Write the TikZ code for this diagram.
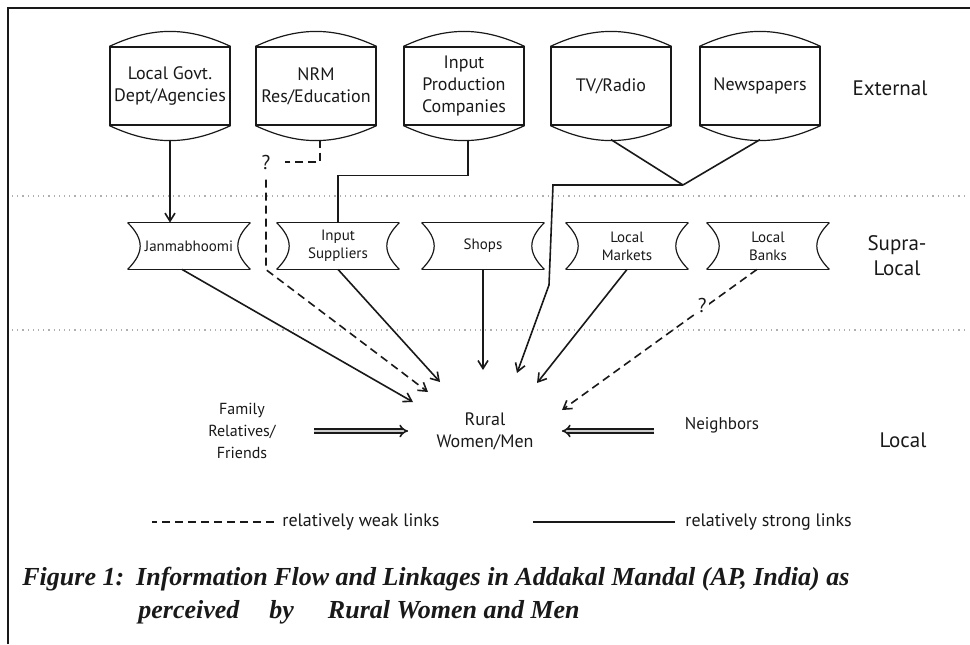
\documentclass[tikz,border=0pt]{standalone}
\usepackage{fontspec}
\setmainfont{PT Sans}
\newfontfamily\capfont{Liberation Serif}
\usetikzlibrary{arrows.meta,positioning,calc}
\definecolor{InfBlack}{RGB}{25,25,25}
\definecolor{InfRule}{RGB}{175,175,175}
\tikzset{
  inf/ext/.style={
    rectangle,
    draw=InfBlack,
    semithick,
    minimum width=60pt,
    minimum height=39pt,
    inner sep=2pt,
    align=center,
    text=InfBlack,
    font=\fontsize{9}{11}\selectfont,
    append after command={
      (\tikzlastnode.north west) edge[semithick,draw=InfBlack,out=25,in=155] (\tikzlastnode.north east)
      (\tikzlastnode.south west) edge[semithick,draw=InfBlack,out=-25,in=-155] (\tikzlastnode.south east)
    }
  },
  inf/supra/.style={
    rectangle,
    minimum width=61pt,
    minimum height=23pt,
    inner sep=1pt,
    align=center,
    text=InfBlack,
    font=\fontsize{7.5}{9}\selectfont,
    append after command={
      (\tikzlastnode.north west) edge[semithick,draw=InfBlack] (\tikzlastnode.north east)
      (\tikzlastnode.south west) edge[semithick,draw=InfBlack] (\tikzlastnode.south east)
      (\tikzlastnode.north west) edge[semithick,draw=InfBlack,out=-45,in=45,looseness=1.3] (\tikzlastnode.south west)
      (\tikzlastnode.north east) edge[semithick,draw=InfBlack,out=-135,in=135,looseness=1.3] (\tikzlastnode.south east)
    }
  },
  inf/local/.style={align=center, text=InfBlack, inner sep=2pt, font=\fontsize{8.5}{11}\selectfont},
  inf/level/.style={align=center, text=InfBlack, font=\fontsize{10.5}{12.5}\selectfont},
  inf/qmark/.style={inner sep=1pt, text=InfBlack, font=\fontsize{10}{12}\selectfont},
  inf/legend/.style={anchor=west, inner sep=1pt, text=InfBlack, font=\fontsize{9}{11}\selectfont},
  inf/caption/.style={anchor=west, inner sep=0pt, text=InfBlack, font=\capfont\bfseries\itshape\fontsize{13}{15}\selectfont},
  inf/rule/.style={draw=InfRule, dotted, line width=0.6pt},
  inf/line/.style={thick, draw=InfBlack},
  inf/arrow/.style={-{Straight Barb[length=4pt,width=5pt]}, thick, draw=InfBlack},
  inf/dashline/.style={thick, draw=InfBlack, dash pattern=on 4pt off 2.5pt},
  inf/dasharrow/.style={-{Straight Barb[length=4pt,width=5pt]}, thick, draw=InfBlack, dash pattern=on 4pt off 2.5pt},
  inf/dbl/.style={-{Implies}, thick, draw=InfBlack, double=gray!40, double distance=1.3pt}
}
\begin{document}
\begin{tikzpicture}[x=0.5pt,y=-0.5pt]
  \useasboundingbox (0,0) rectangle (970,644);
  \draw[line width=1pt, InfBlack] (8,644) -- (8,8) -- (970,8);
  \draw[inf/rule] (12,196) -- (966,196);
  \draw[inf/rule] (12,330) -- (966,330);

  % external sources
  \node[inf/ext] (gov) at (170,86) {Local Govt.\\Dept/Agencies};
  \node[inf/ext] (nrm) at (316,86) {NRM\\Res/Education};
  \node[inf/ext] (prod) at (464,86) {Input\\Production\\Companies};
  \node[inf/ext] (tv) at (611,86) {TV/Radio};
  \node[inf/ext] (news) at (760,86) {Newspapers};
  \node[inf/level] (lvlext) at (890,88) {External};

  % supra-local
  \node[inf/supra] (jan) at (189,246) {Janmabhoomi};
  \node[inf/supra] (sup) at (338,246) {Input\\Suppliers};
  \node[inf/supra] (shops) at (483,246) {Shops};
  \node[inf/supra] (mkt) at (627,246) {Local\\Markets};
  \node[inf/supra] (bank) at (768,246) {Local\\Banks};
  \node[inf/level] (lvlsup) at (897,256) {Supra-\\Local};

  % local
  \node[inf/local, font=\fontsize{9}{11}\selectfont] (rural) at (485,431) {Rural\\Women/Men};
  \node[inf/local, font=\fontsize{8}{11}\selectfont] (family) at (242,431) {Family\\Relatives/\\Friends};
  \node[inf/local] (neigh) at (722,425) {Neighbors};
  \node[inf/level] (lvlloc) at (903,440) {Local};

  \coordinate (toJan) at (413,402);
  \coordinate (toNrm) at (428,392);
  \coordinate (toSup) at (440,382);
  \coordinate (toShops) at (483,370);
  \coordinate (toMedia) at (517,373);
  \coordinate (toMkt) at (537,383);
  \coordinate (toBank) at (562,410);
  \coordinate (media) at (683,185);

  % links
  \draw[inf/arrow] ([yshift=-7pt]gov.south) -- (gov.south |- jan.north);
  \node[inf/qmark] (q1) at (266,162) {?};
  \draw[inf/dashline] ([xshift=2pt,yshift=-7pt]nrm.south) |- ([xshift=6pt]q1.east);
  \draw[inf/dasharrow] ([yshift=-4pt]q1.south) -- ++(0,90) -- (toNrm);
  \draw[inf/line] ([xshift=2pt,yshift=-7pt]prod.south) -- ++(0,36) -| (sup.north);
  \draw[inf/line] ([yshift=-7pt]tv.south) -- (media);
  \draw[inf/line] ([yshift=-7pt]news.south) -- (media);
  \draw[inf/arrow] (media) -- ++(-130,0) -- ++(-4,100) -- (toMedia);
  \draw[inf/arrow] ([xshift=-3.5pt]jan.south) -- (toJan);
  \draw[inf/arrow] (sup.south) -- (toSup);
  \draw[inf/arrow] (shops.south) -- (toShops);
  \draw[inf/arrow] (mkt.south) -- (toMkt);
  \draw[inf/dasharrow] ([xshift=-5.5pt]bank.south) -- node[pos=0.26, inf/qmark, fill=white, xshift=-2pt] (q2) {?} (toBank);
  \draw[inf/dbl, shorten <=17pt, shorten >=12pt] (family) -- (rural);
  \draw[inf/dbl, shorten <=13pt, shorten >=12pt] (neigh.west |- rural) -- (rural);

  % legend
  \node[inf/legend] (weak) at (280,522) {relatively weak links};
  \draw[inf/dashline] ([xshift=-3pt]weak.west) -- ++(-122,0);
  \node[inf/legend] (strong) at (683,522) {relatively strong links};
  \draw[inf/line] ([xshift=-4pt]strong.west) -- ++(-142,0);

  % caption
  \node[inf/caption] (cap1) at (22,579) {Figure 1:\hspace{6pt}Information Flow and Linkages in Addakal Mandal (AP, India) as};
  \node[inf/caption] (cap2) at (138,612) {perceived\hspace{15pt}by\hspace{17pt}Rural Women and Men};
\end{tikzpicture}
\end{document}
